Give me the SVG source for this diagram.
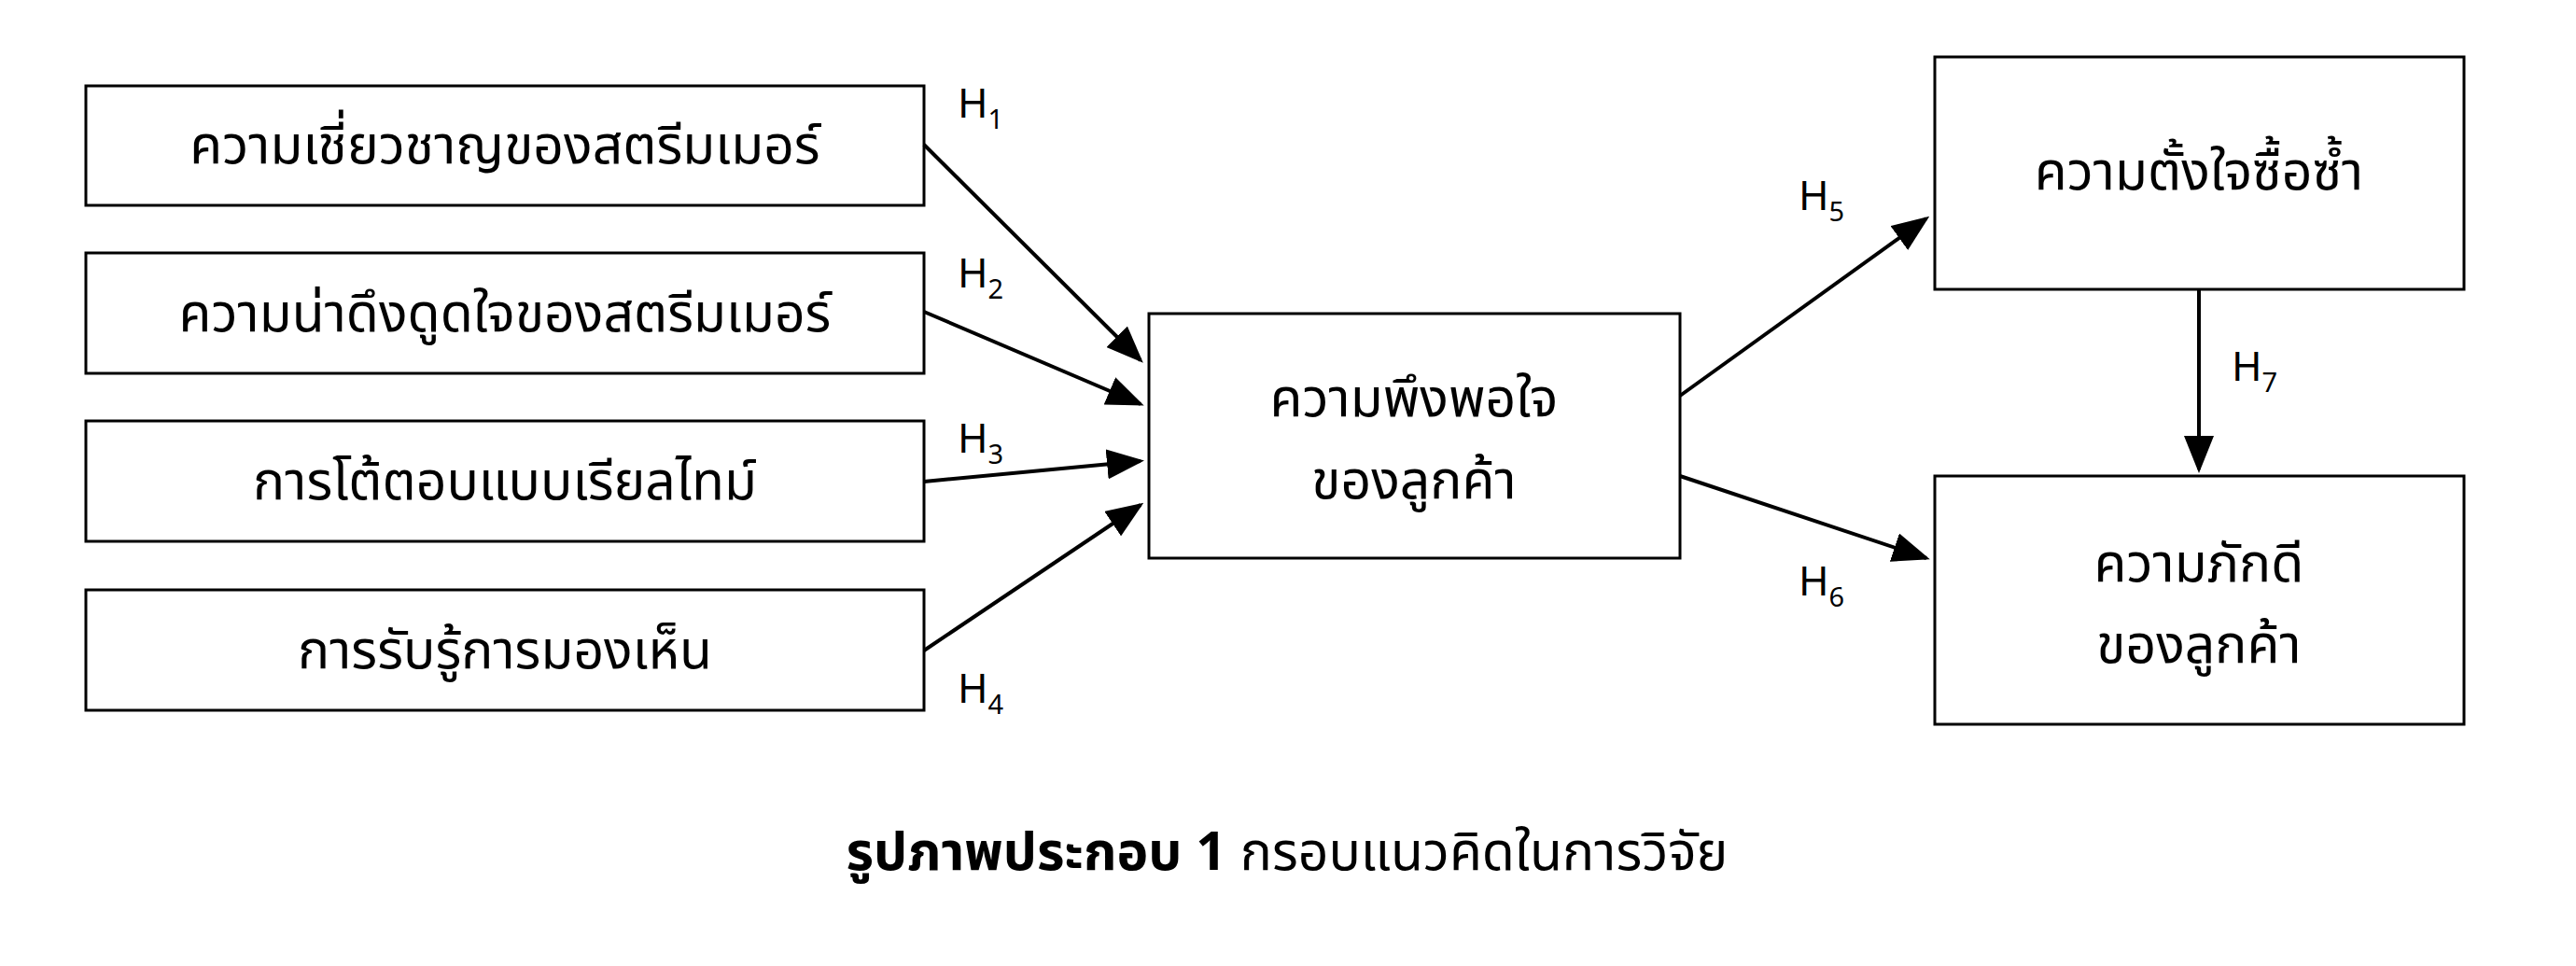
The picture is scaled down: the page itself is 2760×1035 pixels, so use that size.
<svg xmlns="http://www.w3.org/2000/svg" width="2760" height="1035" viewBox="0 0 2760 1035">
<style>
.b{fill:#fff;stroke:#000;stroke-width:3}
.t{font-family:"Noto Sans","Noto Sans Thai","Liberation Sans",sans-serif;font-size:57px;fill:#000;text-anchor:middle}
.h{font-family:"Noto Sans","Liberation Sans",sans-serif;font-size:44px;fill:#000}
.s{font-size:29px}
.c{stroke:#000;stroke-width:4;fill:none;marker-end:url(#a)}
</style>
<defs><marker id="a" markerWidth="10" markerHeight="8" refX="9" refY="4" orient="auto" markerUnits="strokeWidth"><path d="M0,0L10,4L0,8z" fill="#000"/></marker></defs>
<rect width="2760" height="1035" fill="#fff"/>
<g id="n1"><rect class="b" x="92" y="92" width="898" height="128"/><text class="t" x="541" y="175">ความเชี่ยวชาญของสตรีมเมอร์</text></g>
<g id="n2"><rect class="b" x="92" y="271" width="898" height="129"/><text class="t" x="541" y="355">ความน่าดึงดูดใจของสตรีมเมอร์</text></g>
<g id="n3"><rect class="b" x="92" y="451" width="898" height="129"/><text class="t" x="541" y="535">การโต้ตอบแบบเรียลไทม์</text></g>
<g id="n4"><rect class="b" x="92" y="632" width="898" height="129"/><text class="t" x="541" y="716">การรับรู้การมองเห็น</text></g>
<g id="n5"><rect class="b" x="1231" y="336" width="569" height="262"/><text class="t" x="1515" y="446">ความพึงพอใจ</text><text class="t" x="1515" y="534">ของลูกค้า</text></g>
<g id="n6"><rect class="b" x="2073" y="61" width="567" height="249"/><text class="t" x="2356" y="203">ความตั้งใจซื้อซ้ำ</text></g>
<g id="n7"><rect class="b" x="2073" y="510" width="567" height="266"/><text class="t" x="2356" y="623">ความภักดี</text><text class="t" x="2356" y="710">ของลูกค้า</text></g>
<g id="connectors">
<line class="c" x1="990" y1="155" x2="1222" y2="386"/>
<line class="c" x1="990" y1="334" x2="1222" y2="433"/>
<line class="c" x1="990" y1="516" x2="1222" y2="494"/>
<line class="c" x1="990" y1="697" x2="1222" y2="541"/>
<line class="c" x1="1800" y1="424" x2="2064" y2="234"/>
<line class="c" x1="1800" y1="510" x2="2064" y2="598"/>
<line class="c" x1="2356" y1="310" x2="2356" y2="503"/>
<text class="h" x="1026" y="126">H<tspan class="s" dy="12">1</tspan></text>
<text class="h" x="1026" y="308">H<tspan class="s" dy="12">2</tspan></text>
<text class="h" x="1026" y="485">H<tspan class="s" dy="12">3</tspan></text>
<text class="h" x="1026" y="753">H<tspan class="s" dy="12">4</tspan></text>
<text class="h" x="1927" y="225">H<tspan class="s" dy="12">5</tspan></text>
<text class="h" x="1927" y="638">H<tspan class="s" dy="12">6</tspan></text>
<text class="h" x="2391" y="408">H<tspan class="s" dy="12">7</tspan></text>
</g>
<text class="t" x="1379" y="932"><tspan font-weight="bold">รูปภาพประกอบ 1</tspan> กรอบแนวคิดในการวิจัย</text>
</svg>
